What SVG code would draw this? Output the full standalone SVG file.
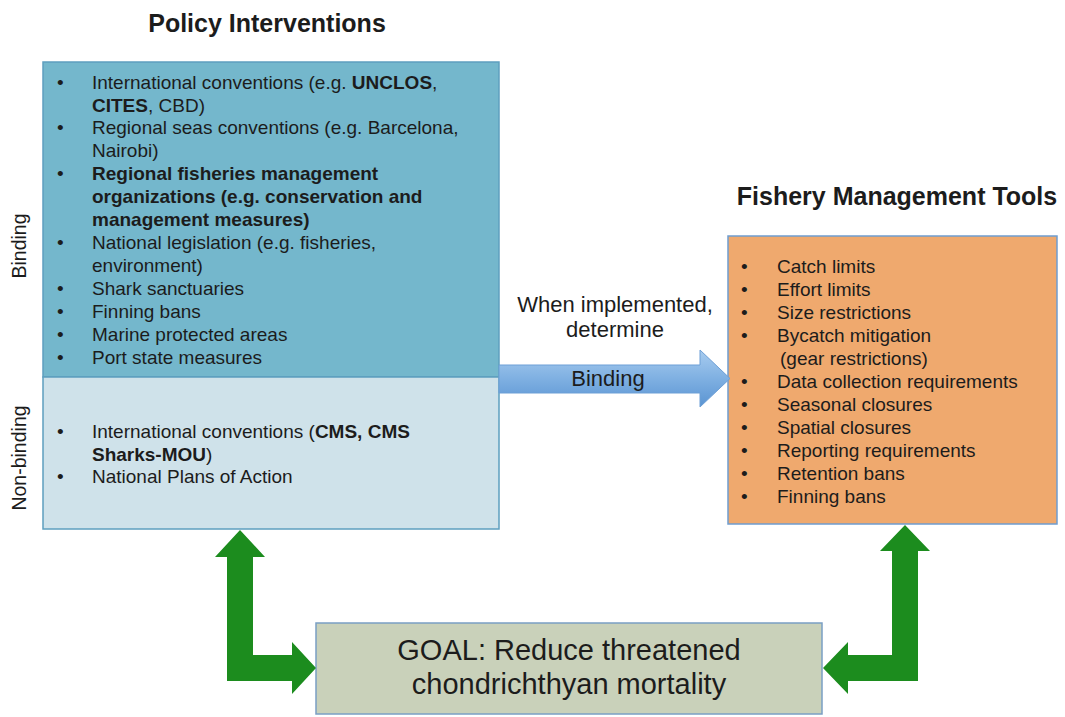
<svg xmlns="http://www.w3.org/2000/svg" width="1065" height="717" viewBox="0 0 1065 717">
<defs>
<linearGradient id="blueGrad" x1="0" y1="0" x2="0" y2="1">
<stop offset="0" stop-color="#a8ccef"/>
<stop offset="0.5" stop-color="#7fb0e2"/>
<stop offset="1" stop-color="#5a94d2"/>
</linearGradient>
<style>
text{font-family:"Liberation Sans",Arial,sans-serif;fill:#1c1c1c}
.t{font-size:19px}
.m{font-size:22px}
.b{font-weight:bold}
.title{font-size:25px;font-weight:bold}
.side{font-size:19.5px}
.goal{font-size:29px}
.green{fill:#1c8c1e}
</style>
</defs>
<rect width="1065" height="717" fill="#ffffff"/>

<text class="title" x="267" y="32" text-anchor="middle">Policy Interventions</text>
<text class="title" x="897" y="205" text-anchor="middle">Fishery Management Tools</text>

<g id="policy">
<rect x="43" y="62" width="456" height="315" fill="#74b7cc" stroke="#5e9fbf" stroke-width="1.5"/>
<rect x="43" y="377" width="456" height="152" fill="#cfe2ea" stroke="#5e9fbf" stroke-width="1.5"/>
<text class="side" transform="translate(26,246) rotate(-90)" text-anchor="middle">Binding</text>
<text class="side" transform="translate(26,458) rotate(-90)" text-anchor="middle">Non-binding</text>
<g class="t">
<text x="57" y="89">•</text><text x="92" y="89">International conventions (e.g. <tspan class="b">UNCLOS</tspan>,</text>
<text x="92" y="112"><tspan class="b">CITES</tspan>, CBD)</text>
<text x="57" y="134">•</text><text x="92" y="134">Regional seas conventions (e.g. Barcelona,</text>
<text x="92" y="157">Nairobi)</text>
<text x="57" y="180">•</text><text x="92" y="180" class="b">Regional fisheries management</text>
<text x="92" y="203" class="b">organizations (e.g. conservation and</text>
<text x="92" y="226" class="b">management measures)</text>
<text x="57" y="249">•</text><text x="92" y="249">National legislation (e.g. fisheries,</text>
<text x="92" y="272">environment)</text>
<text x="57" y="295">•</text><text x="92" y="295">Shark sanctuaries</text>
<text x="57" y="318">•</text><text x="92" y="318">Finning bans</text>
<text x="57" y="341">•</text><text x="92" y="341">Marine protected areas</text>
<text x="57" y="364">•</text><text x="92" y="364">Port state measures</text>
<text x="57" y="438">•</text><text x="92" y="438">International conventions (<tspan class="b">CMS, CMS</tspan></text>
<text x="92" y="461"><tspan class="b">Sharks-MOU</tspan>)</text>
<text x="57" y="483">•</text><text x="92" y="483">National Plans of Action</text>
</g>
</g>

<g id="tools">
<rect x="728" y="236" width="329" height="288" fill="#efa96e" stroke="#6f9dcf" stroke-width="1.5"/>
<g class="t">
<text x="741" y="273">•</text><text x="777" y="273">Catch limits</text>
<text x="741" y="296">•</text><text x="777" y="296">Effort limits</text>
<text x="741" y="319">•</text><text x="777" y="319">Size restrictions</text>
<text x="741" y="342">•</text><text x="777" y="342">Bycatch mitigation</text>
<text x="780" y="365">(gear restrictions)</text>
<text x="741" y="388">•</text><text x="777" y="388">Data collection requirements</text>
<text x="741" y="411">•</text><text x="777" y="411">Seasonal closures</text>
<text x="741" y="434">•</text><text x="777" y="434">Spatial closures</text>
<text x="741" y="457">•</text><text x="777" y="457">Reporting requirements</text>
<text x="741" y="480">•</text><text x="777" y="480">Retention bans</text>
<text x="741" y="503">•</text><text x="777" y="503">Finning bans</text>
</g>
</g>

<g id="goal">
<rect x="316" y="623" width="506" height="91" fill="#c9d1ba" stroke="#7a9fc4" stroke-width="1.5"/>
<text class="goal" x="569" y="660" text-anchor="middle">GOAL: Reduce threatened</text>
<text class="goal" x="569" y="694" text-anchor="middle">chondrichthyan mortality</text>
</g>

<g id="connectors">
<path d="M499 365 L700 365 L700 350 L730 378.5 L700 407 L700 393 L499 393 Z" fill="url(#blueGrad)" stroke="#6d9fd6" stroke-width="1"/>
<text class="m" x="615" y="312" text-anchor="middle">When implemented,</text>
<text class="m" x="615" y="337" text-anchor="middle">determine</text>
<text class="m" x="608" y="386" text-anchor="middle">Binding</text>
<path class="green" d="M240 530 L265 557 L253 557 L253 655 L292 655 L292 642 L316 668 L292 694 L292 681 L227 681 L227 557 L215 557 Z"/>
<path class="green" d="M905 525 L930 551 L918 551 L918 681 L848 681 L848 694 L823 668 L848 642 L848 655 L892 655 L892 551 L880 551 Z"/>
</g>
</svg>
